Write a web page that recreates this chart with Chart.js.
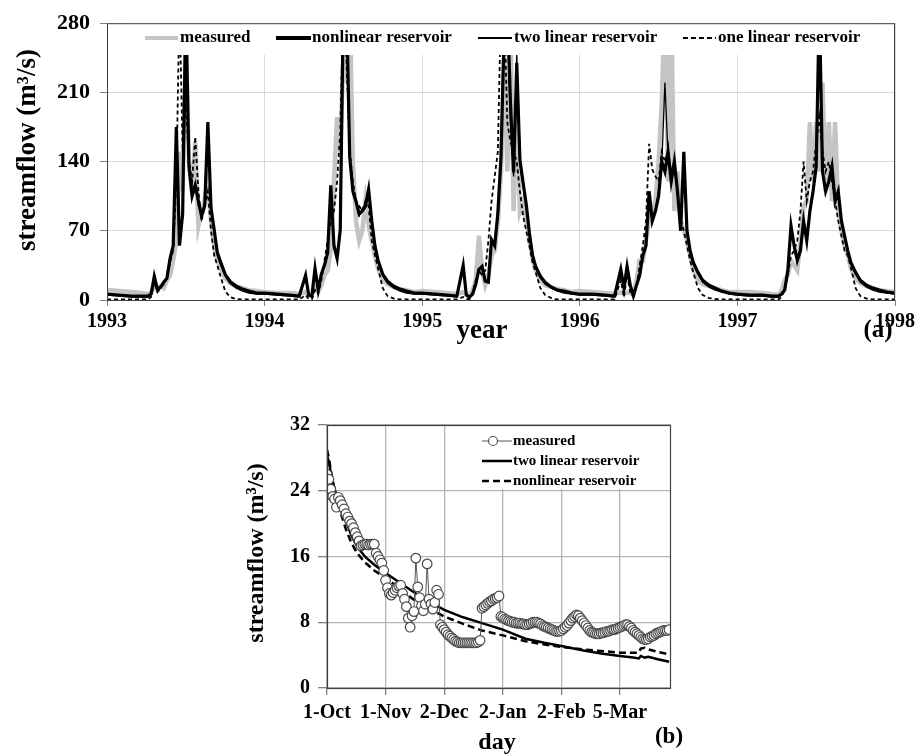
<!DOCTYPE html>
<html lang="en">
<head>
<meta charset="UTF-8">
<title>streamflow</title>
<script src="https://cdn.jsdelivr.net/npm/chart.js"></script>
<style>
  body { margin: 0; background: #fff; }
  canvas { position: absolute; }
</style>
</head>
<body>
<canvas id="chartA" width="921" height="345" style="left:0;top:0"></canvas>
<canvas id="chartB" width="470" height="356" style="left:230px;top:400px"></canvas>
<script>
// ---------- (a) five years of daily streamflow, sampled ----------
const years = [1993, 1994, 1995, 1996, 1997, 1998];
const yearTicks = [1993, 1994, 1995, 1996, 1997, 1998];
const yearOffsets = [0.00, 0.08, 0.16, 0.22, 0.26, 0.28, 0.30, 0.32, 0.34, 0.36, 0.38, 0.40, 0.42, 0.44,
  0.46, 0.48, 0.50, 0.52, 0.54, 0.56, 0.58, 0.60, 0.62, 0.64, 0.66, 0.68, 0.70, 0.72, 0.75, 0.78, 0.82,
  0.86, 0.90, 0.95];
const flowTicksA = [0, 70, 140, 210, 280];
const seriesNamesA = ['measured', 'nonlinear reservoir', 'two linear reservoir', 'one linear reservoir'];

const measuredA = [
  [10, 9, 8, 7, 6, 8, 15, 10, 14, 12, 20, 25, 40, 60, 150, 110, 260, 140, 110, 160, 75, 90, 100, 120, 80, 55, 40, 32, 22, 17, 14, 12, 10, 9],
  [8, 7, 7, 6, 8, 5, 5, 12, 8, 15, 25, 30, 50, 120, 185, 150, 250, 220, 300, 140, 80, 60, 70, 100, 75, 60, 45, 32, 20, 16, 13, 11, 10, 8],
  [9, 8, 7, 6, 8, 6, 4, 10, 20, 65, 30, 15, 25, 45, 50, 80, 130, 250, 130, 280, 90, 200, 90, 100, 80, 60, 42, 30, 20, 15, 13, 11, 10, 8],
  [9, 8, 7, 6, 8, 6, 8, 7, 6, 20, 40, 40, 60, 80, 90, 100, 140, 200, 300, 120, 300, 90, 130, 80, 70, 60, 45, 30, 20, 16, 14, 12, 10, 8],
  [8, 8, 7, 6, 5, 10, 20, 25, 40, 35, 30, 60, 95, 100, 180, 120, 180, 130, 220, 110, 180, 100, 180, 90, 70, 55, 45, 32, 22, 17, 14, 12, 10, 9],
  [8]
];
const nonlinearA = [
  [6, 5, 4, 4, 4, 6, 24, 11, 13, 18, 22, 42, 55, 175, 55, 87, 300, 135, 105, 116, 100, 85, 95, 180, 93, 71, 48, 39, 26, 19, 14, 11, 9, 7],
  [7, 6, 5, 4, 25, 5, 4, 32, 10, 26, 35, 48, 116, 55, 42, 71, 300, 300, 145, 110, 100, 87, 90, 95, 112, 80, 55, 40, 26, 19, 14, 11, 9, 7],
  [7, 6, 5, 4, 35, 5, 3, 6, 16, 31, 34, 19, 18, 61, 55, 87, 145, 270, 300, 200, 129, 240, 142, 119, 97, 68, 45, 34, 24, 18, 13, 10, 9, 7],
  [6, 6, 5, 4, 31, 12, 34, 15, 4, 15, 25, 45, 55, 110, 80, 90, 105, 140, 130, 150, 120, 140, 110, 70, 150, 70, 50, 38, 28, 20, 15, 12, 9, 7],
  [6, 5, 5, 4, 4, 6, 10, 30, 75, 55, 40, 50, 80, 60, 90, 110, 135, 300, 130, 110, 120, 135, 100, 110, 80, 65, 50, 38, 28, 20, 15, 12, 10, 8],
  [7]
];
const twoLinearA = [
  [5, 4, 3, 3, 3, 5, 22, 10, 12, 17, 21, 40, 52, 170, 60, 90, 300, 130, 108, 118, 95, 88, 98, 175, 90, 68, 45, 36, 24, 17, 12, 9, 7, 6],
  [6, 5, 4, 3, 24, 4, 3, 30, 9, 25, 33, 46, 110, 58, 45, 75, 300, 280, 140, 108, 98, 85, 92, 98, 108, 78, 52, 38, 24, 17, 12, 9, 7, 6],
  [6, 5, 4, 3, 33, 4, 3, 6, 15, 30, 33, 20, 20, 58, 57, 90, 150, 300, 280, 180, 125, 250, 138, 115, 95, 66, 43, 32, 22, 16, 12, 9, 7, 6],
  [5, 5, 4, 3, 30, 10, 32, 14, 4, 14, 24, 44, 56, 105, 82, 92, 110, 135, 220, 145, 118, 135, 108, 72, 145, 68, 48, 36, 26, 18, 13, 10, 8, 6],
  [5, 4, 4, 3, 3, 5, 10, 28, 72, 55, 42, 52, 78, 62, 88, 108, 132, 300, 128, 112, 118, 130, 102, 108, 78, 62, 48, 36, 26, 18, 13, 10, 8, 7],
  [6]
];
const oneLinearA = [
  [0.5, 0.5, 0.5, 0.5, 0.5, 3, 18, 8, 12, 16, 22, 38, 50, 120, 300, 150, 200, 140, 120, 165, 110, 80, 95, 110, 70, 45, 35, 24, 9, 3, 1, 0.5, 0.5, 0.5],
  [0.5, 0.5, 0.5, 0.5, 5, 1, 1, 10, 6, 20, 40, 60, 80, 90, 120, 170, 300, 240, 150, 120, 100, 95, 90, 100, 95, 60, 45, 32, 12, 4, 1.5, 0.5, 0.5, 0.5],
  [0.5, 0.5, 0.5, 0.5, 3, 1, 1, 8, 20, 30, 25, 30, 60, 100, 125, 150, 300, 300, 180, 160, 150, 140, 110, 85, 70, 55, 38, 28, 12, 5, 2, 0.5, 0.5, 0.5],
  [0.5, 0.5, 0.5, 0.5, 20, 3, 25, 8, 3, 15, 35, 55, 80, 158, 132, 125, 120, 150, 140, 150, 130, 140, 110, 80, 70, 55, 40, 28, 12, 5, 2, 1, 0.5, 0.5],
  [0.5, 0.5, 0.5, 0.5, 0.5, 3, 10, 25, 45, 50, 60, 90, 140, 100, 120, 130, 160, 185, 150, 130, 140, 120, 100, 80, 65, 50, 45, 33, 12, 4, 1.5, 0.5, 0.5, 0.5],
  [0.5]
];

// ---------- (b) one recession season, 1-Oct to end of March ----------
const dayTicks = [0, 31, 62, 93, 124, 155];
const dayTickLabels = ['1-Oct', '1-Nov', '2-Dec', '2-Jan', '2-Feb', '5-Mar'];
const flowTicksB = [0, 8, 16, 24, 32];
const seriesNamesB = ['measured', 'two linear reservoir', 'nonlinear reservoir'];

// daily measured flow, day 0 = 1-Oct
const measuredB = [
  26.0, 25.4, 24.2, 23.3, 23.0, 22.0, 23.2, 22.8, 22.3, 21.8,
  21.2, 20.8, 20.3, 20.0, 19.5, 18.9, 18.4, 17.9, 17.3, 17.4,
  17.5, 17.5, 17.4, 17.5, 17.5, 17.5, 16.4, 16.0, 15.6, 15.2,
  14.3, 13.1, 12.2, 11.5, 11.3, 11.6, 11.9, 12.2, 12.4, 12.5,
  11.5, 10.8, 9.9, 8.5, 7.4, 8.8, 9.3, 15.8, 12.3, 11.0,
  10.0, 9.4, 10.2, 15.1, 10.8, 10.2, 9.6, 10.4, 11.9, 11.4,
  7.7, 7.4, 7.1, 6.8, 6.5, 6.3, 6.1, 5.9, 5.7, 5.6,
  5.5, 5.5, 5.5, 5.5, 5.5, 5.5, 5.5, 5.5, 5.5, 5.5,
  5.6, 5.8, 9.7, 9.9, 10.1, 10.3, 10.5, 10.6, 10.8, 10.9,
  11.0, 11.2, 8.7, 8.6, 8.4, 8.3, 8.2, 8.1, 8.0, 8.0,
  7.9, 7.9, 7.9, 7.8, 7.8, 7.7, 7.7, 7.8, 7.9, 8.0,
  8.0, 8.0, 7.9, 7.8, 7.6, 7.5, 7.4, 7.3, 7.2, 7.1,
  7.0, 6.9, 6.9, 6.9, 7.0, 7.2, 7.4, 7.6, 7.9, 8.2,
  8.5, 8.7, 8.9, 8.8, 8.5, 8.2, 7.9, 7.6, 7.3, 7.0,
  6.8, 6.7, 6.6, 6.6, 6.6, 6.7, 6.7, 6.8, 6.9, 6.9,
  7.0, 7.1, 7.1, 7.2, 7.3, 7.4, 7.5, 7.6, 7.7, 7.7,
  7.5, 7.3, 7.0, 6.8, 6.6, 6.4, 6.2, 6.0, 5.9, 5.9,
  6.0, 6.2, 6.3, 6.4, 6.6, 6.7, 6.8, 6.9, 7.0, 7.0,
  7.0, 7.1
];
const modelDays = [0, 1, 2, 3, 5, 7, 10, 13, 16, 20, 25, 31, 38, 45, 52, 62, 72, 82, 93, 105, 115,
  124, 135, 145, 155, 162, 165, 166, 168, 170, 175, 181];
const twoLinearB = [28.3, 27.5, 26.2, 25.0, 23.5, 22.2, 20.3, 18.5, 17.2, 16.0, 15.0, 14.0, 12.9, 11.8,
  10.8, 9.5, 8.6, 7.9, 7.1, 6.0, 5.5, 5.1, 4.6, 4.2, 3.9, 3.7, 3.6, 3.9, 3.7, 3.8, 3.5, 3.2];
const nonlinearB = [29.0, 28.0, 26.5, 25.2, 23.2, 21.5, 19.3, 17.6, 16.4, 15.3, 14.3, 13.4, 12.2, 10.9,
  9.9, 8.7, 7.8, 7.0, 6.4, 5.7, 5.3, 5.0, 4.7, 4.5, 4.3, 4.3, 4.3, 4.8, 4.9, 4.7, 4.4, 4.1];

// ---------- helpers ----------
const serif = '"Liberation Serif", "Times New Roman", serif';

function yearPoints(rows) {
  var pts = [];
  rows.forEach(function (row, i) {
    row.forEach(function (v, j) { pts.push({ x: years[i] + yearOffsets[j], y: v }); });
  });
  return pts;
}
function setTicks(list) {
  return function (scale) { scale.ticks = list.map(function (v) { return { value: v }; }); };
}
function drawLegendLine(ctx, x1, x2, y, color, width, dash) {
  ctx.save();
  ctx.strokeStyle = color;
  ctx.lineWidth = width;
  ctx.setLineDash(dash);
  ctx.beginPath();
  ctx.moveTo(x1, y);
  ctx.lineTo(x2, y);
  ctx.stroke();
  ctx.restore();
}

// ---------- chart (a) ----------
const extrasA = {
  id: 'extrasA',
  afterDraw: function (chart) {
    var ctx = chart.ctx, a = chart.chartArea;
    ctx.save();
    // legend band inside the plot
    ctx.fillStyle = '#fff';
    ctx.fillRect(130, 23, 745, 32);
    ctx.strokeStyle = '#404040';
    ctx.lineWidth = 1;
    ctx.strokeRect(a.left + 0.5, a.top + 0.5, a.right - a.left - 1, a.bottom - a.top);
    var items = [
      { x1: 145, x2: 178, tx: 180, color: '#c4c4c4', w: 4, dash: [] },
      { x1: 276, x2: 311, tx: 312, color: '#000', w: 4, dash: [] },
      { x1: 478, x2: 512, tx: 514, color: '#000', w: 2, dash: [] },
      { x1: 683, x2: 716, tx: 718, color: '#000', w: 2, dash: [5, 3] }
    ];
    ctx.font = 'bold 17px ' + serif;
    ctx.fillStyle = '#000';
    ctx.textBaseline = 'middle';
    ctx.textAlign = 'left';
    items.forEach(function (it, i) {
      drawLegendLine(ctx, it.x1, it.x2, 38, it.color, it.w, it.dash);
      ctx.fillText(seriesNamesA[i], it.tx, 38);
    });
    // axis titles
    ctx.textAlign = 'center';
    ctx.font = 'bold 27px ' + serif;
    ctx.fillText('year', 482, 331);
    ctx.font = 'bold 25px ' + serif;
    ctx.fillText('(a)', 878, 331);
    ctx.translate(28, 150);
    ctx.rotate(-Math.PI / 2);
    ctx.font = 'bold 27px ' + serif;
    ctx.fillText('streamflow (m\u00b3/s)', 0, 0);
    ctx.restore();
  }
};

new Chart(document.getElementById('chartA').getContext('2d'), {
  type: 'line',
  data: {
    datasets: [
      { label: seriesNamesA[0], data: yearPoints(measuredA), borderColor: '#c4c4c4', borderWidth: 4.5, order: 4 },
      { label: seriesNamesA[1], data: yearPoints(nonlinearA), borderColor: '#000', borderWidth: 3.2, order: 3 },
      { label: seriesNamesA[2], data: yearPoints(twoLinearA), borderColor: '#000', borderWidth: 1.3, order: 2 },
      { label: seriesNamesA[3], data: yearPoints(oneLinearA), borderColor: '#000', borderWidth: 1.8, borderDash: [4, 3], order: 1 }
    ]
  },
  options: {
    responsive: false,
    animation: false,
    elements: { point: { radius: 0 }, line: { tension: 0, fill: false } },
    layout: { padding: { left: 0, right: 26, top: 16, bottom: 15 } },
    plugins: { legend: { display: false }, tooltip: { enabled: false } },
    scales: {
      x: {
        type: 'linear', min: 1993, max: 1998,
        afterBuildTicks: setTicks(yearTicks),
        afterFit: function (s) { s.height = 30; },
        border: { display: false },
        grid: { color: '#d9d9d9', tickColor: '#808080', tickLength: 6 },
        ticks: { color: '#000', padding: 4, maxRotation: 0, font: { family: serif, size: 20, weight: 'bold' },
          callback: function (v) { return String(v); } }
      },
      y: {
        min: 0, max: 280,
        afterBuildTicks: setTicks(flowTicksA),
        afterFit: function (s) { s.width = 107; },
        border: { display: false },
        grid: { color: '#d9d9d9', tickColor: '#808080', tickLength: 7 },
        ticks: { color: '#000', padding: 10, font: { family: serif, size: 22, weight: 'bold' } }
      }
    }
  },
  plugins: [extrasA]
});

// ---------- chart (b) ----------
const extrasB = {
  id: 'extrasB',
  afterDraw: function (chart) {
    var ctx = chart.ctx, a = chart.chartArea;
    ctx.save();
    ctx.fillStyle = '#fff';
    ctx.fillRect(240, 26, 200, 63);
    ctx.strokeStyle = '#404040';
    ctx.lineWidth = 1.2;
    ctx.strokeRect(a.left + 0.5, a.top + 0.5, a.right - a.left - 1, a.bottom - a.top);
    ctx.font = 'bold 15px ' + serif;
    ctx.fillStyle = '#000';
    ctx.textBaseline = 'middle';
    ctx.textAlign = 'left';
    // measured: line with open circle
    drawLegendLine(ctx, 252, 282, 41, '#555', 1, []);
    ctx.beginPath();
    ctx.arc(263, 41, 4.5, 0, Math.PI * 2);
    ctx.fillStyle = '#fff';
    ctx.fill();
    ctx.strokeStyle = '#555';
    ctx.lineWidth = 1.2;
    ctx.stroke();
    ctx.fillStyle = '#000';
    ctx.fillText(seriesNamesB[0], 283, 41);
    drawLegendLine(ctx, 252, 282, 61, '#000', 2.5, []);
    ctx.fillText(seriesNamesB[1], 283, 61);
    drawLegendLine(ctx, 252, 282, 81, '#000', 2.5, [7, 4]);
    ctx.fillText(seriesNamesB[2], 283, 81);
    // axis titles
    ctx.textAlign = 'center';
    ctx.font = 'bold 24px ' + serif;
    ctx.fillText('day', 267, 343);
    ctx.font = 'bold 23px ' + serif;
    ctx.fillText('(b)', 439, 337);
    ctx.translate(27, 153);
    ctx.rotate(-Math.PI / 2);
    ctx.font = 'bold 24px ' + serif;
    ctx.fillText('streamflow (m\u00b3/s)', 0, 0);
    ctx.restore();
  }
};

new Chart(document.getElementById('chartB').getContext('2d'), {
  type: 'line',
  data: {
    datasets: [
      { label: seriesNamesB[0], data: measuredB.map(function (v, i) { return { x: i, y: v }; }),
        borderColor: '#555', borderWidth: 1, pointRadius: 4.8, pointBackgroundColor: '#fff',
        pointBorderColor: '#4a4a4a', pointBorderWidth: 1.2, order: 0 },
      { label: seriesNamesB[1], data: modelDays.map(function (d, i) { return { x: d, y: twoLinearB[i] }; }),
        borderColor: '#000', borderWidth: 2.5, pointRadius: 0, order: 2 },
      { label: seriesNamesB[2], data: modelDays.map(function (d, i) { return { x: d, y: nonlinearB[i] }; }),
        borderColor: '#000', borderWidth: 2.5, borderDash: [7, 4], pointRadius: 0, order: 1 }
    ]
  },
  options: {
    responsive: false,
    animation: false,
    elements: { line: { tension: 0, fill: false } },
    layout: { padding: { left: 0, right: 29, top: 25, bottom: 38 } },
    plugins: { legend: { display: false }, tooltip: { enabled: false } },
    scales: {
      x: {
        type: 'linear', min: 0, max: 182,
        afterBuildTicks: setTicks(dayTicks),
        afterFit: function (s) { s.height = 30; },
        border: { display: false },
        grid: { color: '#b4b4b4', lineWidth: 1.3, tickColor: '#808080', tickLength: 7 },
        ticks: { color: '#000', padding: 6, maxRotation: 0, autoSkip: false, font: { family: serif, size: 20, weight: 'bold' },
          callback: function (v) { var k = dayTicks.indexOf(v); return k >= 0 ? dayTickLabels[k] : ''; } }
      },
      y: {
        min: 0, max: 32,
        afterBuildTicks: setTicks(flowTicksB),
        afterFit: function (s) { s.width = 97; },
        border: { display: false },
        grid: { color: '#b4b4b4', lineWidth: 1.3, tickColor: '#808080', tickLength: 9 },
        ticks: { color: '#000', padding: 8, font: { family: serif, size: 20, weight: 'bold' } }
      }
    }
  },
  plugins: [extrasB]
});
</script>
</body>
</html>
